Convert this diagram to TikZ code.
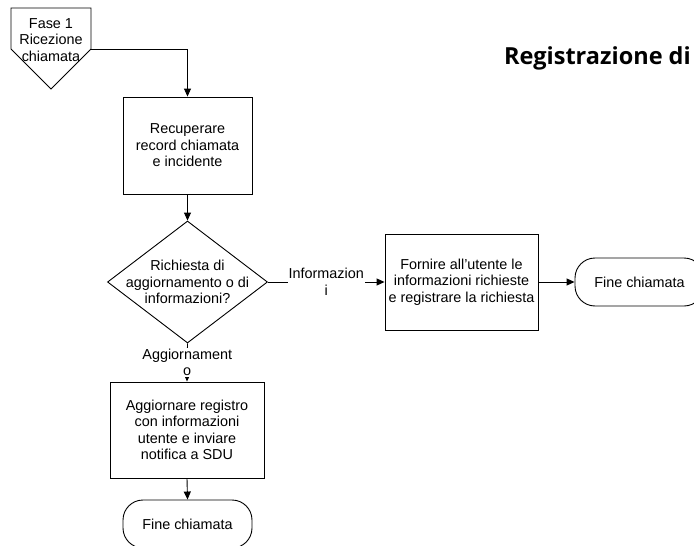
\documentclass[tikz,border=0pt]{standalone}
\usepackage{fontspec}
\setmainfont{Liberation Sans}
\newfontfamily\titlefont{Open Sans}
\usetikzlibrary{arrows.meta,shapes.geometric}
\tikzset{
  ln/.style={draw=black, line width=0.9pt},
  arr/.style={ln, -{Triangle[length=8pt,width=7pt]}},
  body/.style={font=\fontsize{14.4}{16.5}\selectfont, align=center, text=black},
  procbox/.style={ln, fill=white, rectangle, inner sep=0pt, body},
  termbox/.style={ln, fill=white, rectangle, rounded corners=20pt, inner sep=0pt, body},
  decbox/.style={ln, fill=white, diamond, inner sep=0pt},
  lbl/.style={body, fill=white, inner sep=1pt},
}
\begin{document}
\begin{tikzpicture}[x=1pt,y=-1pt]
\useasboundingbox (0,0) rectangle (694,546);
\clip (0,0) rectangle (694,546);
% title
\node[anchor=base east, inner sep=0pt, font=\titlefont\bfseries\fontsize{23.5}{28}\selectfont] (title) at (691,64) {Registrazione di};
% off-page connector
\draw[ln, fill=white] (11,8) -- (91,8) -- (91,49) -- (51,89) -- (11,49) -- cycle;
\coordinate (pcorner) at (91,49);
\node[body, inner sep=0pt] (start) at (51,40) {Fase 1\\Ricezione\\chiamata};
% boxes
\node[procbox, minimum width=129pt, minimum height=97pt] (rec) at (187.5,145.5) {Recuperare\\record chiamata\\e incidente};
\node[decbox, minimum width=160pt, minimum height=122pt] (dec) at (187.5,282) {};
\node[body, inner sep=0pt] (dectext) at (dec.center) {Richiesta di\\aggiornamento o di\\informazioni?};
\node[procbox, minimum width=153pt, minimum height=96pt] (info) at (461.5,282) {Fornire all’utente le\\informazioni richieste\\e registrare la richiesta};
\node[termbox, minimum width=129pt, minimum height=48pt] (fine1) at (639.5,282) {Fine chiamata};
\node[procbox, minimum width=154pt, minimum height=96pt] (agg) at (187,430) {Aggiornare registro\\con informazioni\\utente e inviare\\notifica a SDU};
\node[termbox, minimum width=129pt, minimum height=48pt] (fine2) at (187.5,524) {Fine chiamata};
% connectors
\draw[arr] (pcorner) -| (rec.north);
\draw[arr] (rec.south) -- (dec.north);
\draw[arr] (dec.east) -- node[lbl] (lblinfo) {Informazion\\i} (info.west);
\draw[arr] (info.east) -- (fine1.west);
\draw[arr] (dec.south) -- node[lbl] (lblagg) {Aggiornament\\o} (agg.north);
\draw[arr] (agg.south) -- (fine2.north);
\end{tikzpicture}
\end{document}
